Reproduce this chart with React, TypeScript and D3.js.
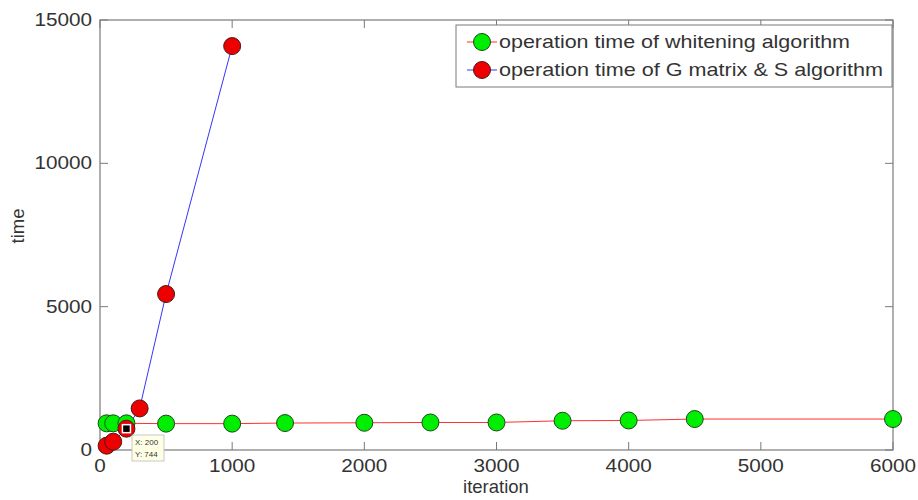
import React from "react";
import * as d3 from "d3";

const whiteIter = [50, 100, 200, 500, 1000, 1400, 2000, 2500, 3000, 3500, 4000, 4500, 6000];
const whiteTime = [930, 930, 930, 920, 920, 940, 950, 960, 960, 1020, 1030, 1080, 1080];
const gsIter = [50, 100, 200, 300, 500, 1000];
const gsTime = [150, 290, 744, 1450, 5440, 14090];
const xTicks = [0, 1000, 2000, 3000, 4000, 5000, 6000];
const yTicks = [0, 5000, 10000, 15000];
const legendLabels = ["operation time of whitening algorithm", "operation time of G matrix & S algorithm"];
const tipPoint = { x: 200, y: 744 };

const W = 918, H = 500;
const L = 100, R = 893, T = 20, B = 450;

export default function App() {
  const x = d3.scaleLinear().domain([0, 6000]).range([L, R]);
  const y = d3.scaleLinear().domain([0, 15000]).range([B, T]);
  const line = d3.line<[number, number]>().x(d => x(d[0])).y(d => y(d[1]));
  const white: [number, number][] = whiteIter.map((v, i) => [v, whiteTime[i]]);
  const gs: [number, number][] = gsIter.map((v, i) => [v, gsTime[i]]);
  const axisColor = "#7a7a7a";
  const textColor = "#333";
  const font = "'Liberation Sans', Arial, sans-serif";
  const r = 8.5;
  const tx = x(tipPoint.x), ty = y(tipPoint.y);
  return (
    <svg width={W} height={H} style={{ position: "absolute", left: 0, top: 0, background: "#fff" }} fontFamily={font}>
      <rect x={0} y={0} width={W} height={H} fill="#fff" />
      <rect x={L} y={T} width={R - L} height={B - T} fill="none" stroke={axisColor} strokeWidth={1.2} />
      {xTicks.map(t => (
        <g key={"x" + t}>
          <line x1={x(t)} x2={x(t)} y1={B} y2={B - 8} stroke={axisColor} />
          <line x1={x(t)} x2={x(t)} y1={T} y2={T + 8} stroke={axisColor} />
          <text x={x(t)} y={472} textAnchor="middle" fontSize={18.5} fill={textColor} transform={`translate(${x(t)},0) scale(1.12,1) translate(${-x(t)},0)`}>{t}</text>
        </g>
      ))}
      {yTicks.map(t => (
        <g key={"y" + t}>
          <line x1={L} x2={L + 8} y1={y(t)} y2={y(t)} stroke={axisColor} />
          <line x1={R} x2={R - 8} y1={y(t)} y2={y(t)} stroke={axisColor} />
          <text x={92} y={y(t) + 6} textAnchor="end" fontSize={18.5} fill={textColor} transform={`translate(92,0) scale(1.12,1) translate(-92,0)`}>{t}</text>
        </g>
      ))}
      <text x={496} y={493} textAnchor="middle" fontSize={18.5} fill={textColor}>iteration</text>
      <text transform="translate(24,226) rotate(-90)" textAnchor="middle" fontSize={18.5} fill={textColor}>time</text>

      <path d={line(white) || ""} fill="none" stroke="#ff3030" strokeWidth={1} />
      <path d={line(gs) || ""} fill="none" stroke="#3535ff" strokeWidth={1} />
      {white.map((d, i) => (
        <circle key={"w" + i} cx={x(d[0])} cy={y(d[1])} r={r} fill="#00ee00" stroke="#1a4a1a" strokeWidth={1} />
      ))}
      {gs.map((d, i) => (
        <circle key={"g" + i} cx={x(d[0])} cy={y(d[1])} r={r} fill="#ee0000" stroke="#4a1a1a" strokeWidth={1} />
      ))}

      <rect x={tx - 4} y={ty - 4} width={8} height={8} fill="#000" stroke="#fff" strokeWidth={1.5} />
      <rect x={132} y={435} width={32} height={26} fill="#ffffe6" stroke="#bbb" strokeWidth={0.8} />
      <text x={135} y={445} fontSize={8} fill="#333">X: {tipPoint.x}</text>
      <text x={135} y={457} fontSize={8} fill="#333">Y: {tipPoint.y}</text>

      <rect x={456} y={25} width={436} height={62} fill="#fff" stroke={axisColor} strokeWidth={1} />
      {legendLabels.map((lab, i) => {
        const ly = 42 + i * 28;
        const lc = i === 0 ? "#ff3030" : "#3535ff";
        const mc = i === 0 ? "#00ee00" : "#ee0000";
        const sc = i === 0 ? "#1a4a1a" : "#4a1a1a";
        return (
          <g key={"l" + i}>
            <line x1={467} x2={497} y1={ly} y2={ly} stroke={lc} strokeWidth={1} />
            <circle cx={482} cy={ly} r={r} fill={mc} stroke={sc} strokeWidth={1} />
            <text x={499} y={ly + 6} fontSize={18.5} fill={textColor} textLength={i === 0 ? 351 : 384} lengthAdjust="spacingAndGlyphs">{lab}</text>
          </g>
        );
      })}
    </svg>
  );
}
